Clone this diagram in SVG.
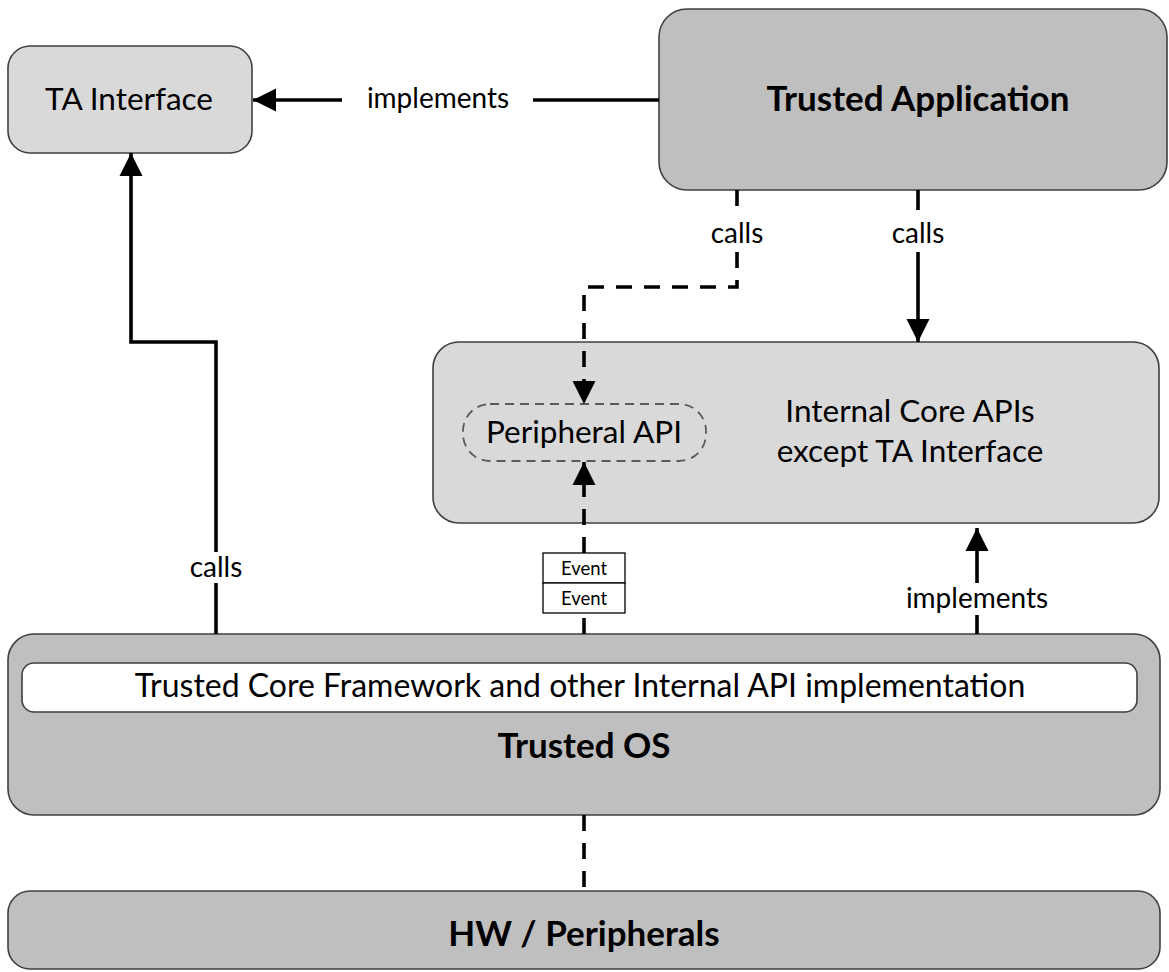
<svg xmlns="http://www.w3.org/2000/svg" width="1169" height="972" viewBox="0 0 1169 972">
<defs>
<style>
.box{stroke:#404040;stroke-width:1.6}
.light{fill:#d9d9d9}
.dark{fill:#bfbfbf}
.t{font-family:Lato,"Liberation Sans",sans-serif;fill:#000;text-anchor:middle}
.n{font-size:31.5px}
.b{font-size:35px;font-weight:bold}
.l{font-size:28px}
.e{font-size:18.5px}
.c{fill:none;stroke:#000;stroke-width:3.6}
.d{stroke-dasharray:16 12}
</style>
<marker id="ah" markerUnits="userSpaceOnUse" markerWidth="24" markerHeight="24" refX="23" refY="12" orient="auto" viewBox="0 0 24 24">
<path d="M0,0.5 L23,12 L0,23.5 Z" fill="#000"/>
</marker>
</defs>
<rect width="1169" height="972" fill="#fff"/>

<g id="ta-interface">
<rect class="box light" x="8" y="46" width="244" height="107" rx="22"/>
<text class="t n" x="129" y="110">TA Interface</text>
</g>

<g id="trusted-application">
<rect class="box dark" x="659" y="9" width="508" height="181" rx="28"/>
<text class="t b" x="918" y="111">Trusted Application</text>
</g>

<g id="internal-core-apis">
<rect class="box light" x="433" y="342" width="726" height="181" rx="26"/>
<text class="t n" x="910" y="422">Internal Core APIs</text>
<text class="t n" x="910" y="462">except TA Interface</text>
</g>

<g id="peripheral-api">
<rect x="463" y="404" width="243" height="57" rx="27" fill="none" stroke="#5a5a5a" stroke-width="1.8" stroke-dasharray="9 6"/>
<text class="t n" x="584" y="443">Peripheral API</text>
</g>

<g id="trusted-os">
<rect class="box dark" x="8" y="634" width="1152" height="181" rx="26"/>
<rect class="box" x="22" y="663" width="1115" height="49" rx="12" fill="#fff"/>
<text class="t n" x="580" y="697" style="font-size:32px">Trusted Core Framework and other Internal API implementation</text>
<text class="t b" x="584" y="758">Trusted OS</text>
</g>

<g id="hw-peripherals">
<rect class="box dark" x="8" y="891" width="1152" height="78" rx="22"/>
<text class="t b" x="584" y="946">HW / Peripherals</text>
</g>

<g id="events">
<rect x="543" y="553" width="82" height="30" fill="#fff" stroke="#000" stroke-width="1.3"/>
<rect x="543" y="583" width="82" height="30" fill="#fff" stroke="#000" stroke-width="1.3"/>
<text class="t e" x="584" y="575">Event</text>
<text class="t e" x="584" y="605">Event</text>
</g>

<g id="connectors">
<path class="c" d="M659,100 H533"/>
<path class="c" d="M342,100 H253" marker-end="url(#ah)"/>
<text class="t l" x="438" y="108">implements</text>

<path class="c" d="M216,634 V583"/>
<path class="c" d="M216,552 V342 H131 V153" marker-end="url(#ah)"/>
<text class="t l" x="216" y="577">calls</text>

<path class="c d" d="M737,190 V212"/>
<path class="c d" d="M737,252 V287 H584 V404" marker-end="url(#ah)"/>
<text class="t l" x="737" y="243">calls</text>

<path class="c" d="M918,190 V210"/>
<path class="c" d="M918,252 V342" marker-end="url(#ah)"/>
<text class="t l" x="918" y="243">calls</text>

<path class="c" d="M977,634 V615"/>
<path class="c" d="M977,583 V528" marker-end="url(#ah)"/>
<text class="t l" x="977" y="608">implements</text>

<path class="c d" d="M584,634 V613"/>
<path class="c d" d="M584,553 V462" marker-end="url(#ah)"/>

<path class="c d" d="M584,815 V891"/>
</g>
</svg>
